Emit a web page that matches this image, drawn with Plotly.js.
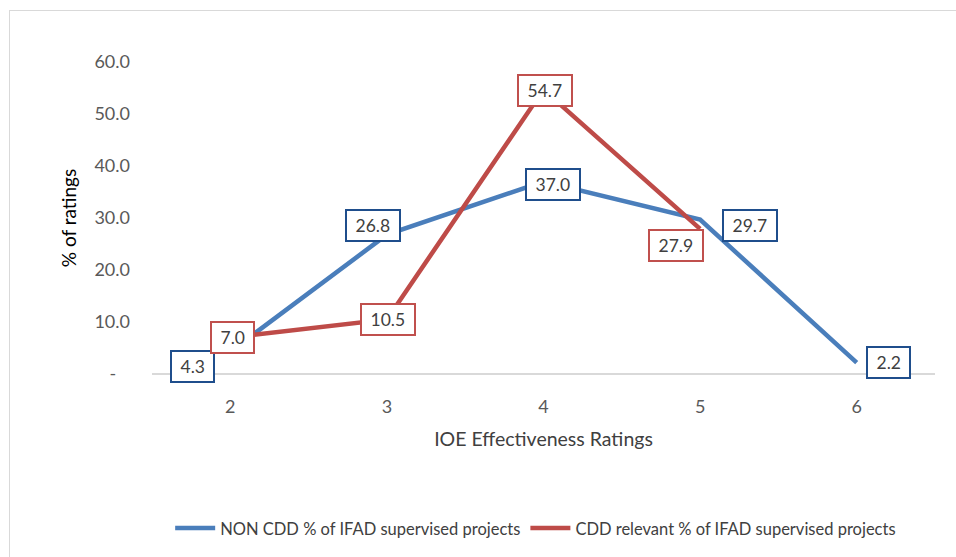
<!DOCTYPE html>
<html>
<head>
<meta charset="utf-8">
<script src="https://cdn.plot.ly/plotly-3.0.1.min.js"></script>
<style>
html,body{margin:0;padding:0;background:#fff;}
#wrap{position:relative;width:956px;height:557px;overflow:hidden;}
#chart{width:956px;height:557px;}
#frame{position:absolute;left:9px;top:10px;width:960px;height:560px;border:1px solid #d9d9d9;pointer-events:none;}
</style>
</head>
<body>
<div id="wrap"><div id="chart"></div><div id="frame"></div></div>
<script>
const categories = ['2', '3', '4', '5', '6'];
const nonCdd = [4.3, 26.8, 37.0, 29.7, 2.2];
const cddCategories = ['2', '3', '4', '5'];
const cdd = [7.0, 10.5, 54.7, 27.9];
const yTickVals = [0, 10, 20, 30, 40, 50, 60];
const yTickText = ['-\u00A0\u00A0\u00A0', '10.0', '20.0', '30.0', '40.0', '50.0', '60.0'];
const nonCddName = 'NON CDD % of IFAD supervised projects';
const cddName = 'CDD relevant % of IFAD supervised projects';

const FONT = 'Lato, "Open Sans", sans-serif';
const blue = '#4a7ebb';
const red = '#be4b48';
const blueBorder = '#1f4e8c';
const redBorder = '#c0504d';

// label offsets (styling only)
const nonCddShift = [[-38, -15], [-14, 9], [9, -3], [50, -6], [32, 0]];
const cddShift = [[2, 0], [1, 0], [1, -1], [-24, -17]];

const annotations = [];
function addLabel(cat, v, shift, border) {
  annotations.push({
    x: categories.indexOf(cat), y: v, text: '\u00A0' + v.toFixed(1) + '\u00A0', showarrow: false,
    xshift: shift[0], yshift: shift[1],
    font: {family: FONT, size: 17.5, color: '#404040'},
    bgcolor: '#ffffff', bordercolor: border, borderwidth: 2, borderpad: 4
  });
}
nonCdd.forEach((v, i) => addLabel(categories[i], v, nonCddShift[i], blueBorder));
cdd.forEach((v, i) => addLabel(cddCategories[i], v, cddShift[i], redBorder));

const data = [
  {x: categories, y: nonCdd, type: 'scatter', mode: 'lines', name: nonCddName,
   line: {color: blue, width: 4.5}},
  {x: cddCategories, y: cdd, type: 'scatter', mode: 'lines', name: cddName,
   line: {color: red, width: 4.5}}
];

const layout = {
  width: 956, height: 557,
  margin: {l: 152, r: 21, t: 62, b: 182},
  paper_bgcolor: '#ffffff', plot_bgcolor: '#ffffff',
  font: {family: FONT, size: 16, color: '#595959'},
  showlegend: true,
  legend: {orientation: 'h', x: 0.49, xanchor: 'center', y: -0.49, yanchor: 'middle',
           font: {family: FONT, size: 16.5, color: '#404040'}, itemwidth: 40, traceorder: 'normal'},
  xaxis: {
    type: 'category', categoryorder: 'array', categoryarray: categories,
    range: [-0.5, 4.5], showgrid: false, zeroline: false,
    showline: false, ticks: '', ticklabelstandoff: 20,
    tickfont: {family: FONT, size: 18, color: '#595959'},
    title: {text: 'IOE Effectiveness Ratings', font: {family: FONT, size: 19.5, color: '#404040'}, standoff: 16}
  },
  yaxis: {
    range: [0, 60], tickvals: yTickVals, ticktext: yTickText,
    showgrid: false, zeroline: true, zerolinecolor: '#d9d9d9', zerolinewidth: 1.5,
    ticks: '', ticklabelstandoff: 21,
    tickfont: {family: FONT, size: 18, color: '#595959'},
    title: {text: '% of ratings', font: {family: FONT, size: 19, color: '#000000'}, standoff: 12}
  },
  annotations: annotations
};

Plotly.newPlot('chart', data, layout, {displayModeBar: false, staticPlot: true});
</script>
</body>
</html>
